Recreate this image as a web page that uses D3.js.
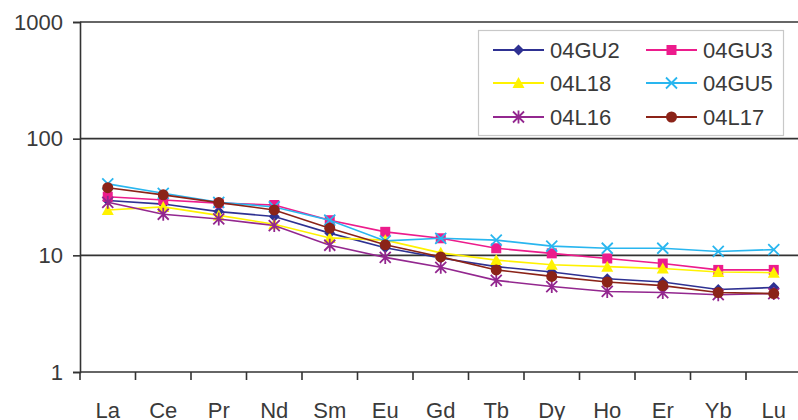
<!DOCTYPE html>
<html>
<head>
<meta charset="utf-8">
<script src="https://cdn.jsdelivr.net/npm/d3@7"></script>
<style>
  html, body { margin: 0; padding: 0; background: #fff; }
  svg { display: block; }
  text { font-family: "Liberation Sans", Arial, sans-serif; fill: #3a3a3a; }
</style>
</head>
<body>
<svg id="chart" width="798" height="420"></svg>
<script>
const categories = ["La","Ce","Pr","Nd","Sm","Eu","Gd","Tb","Dy","Ho","Er","Yb","Lu"];
const yTicks = [1, 10, 100, 1000];

const s04GU2 = [29.5, 27.5, 23.7, 21.5, 15.5, 11.6, 9.5, 8.0, 7.2, 6.3, 5.9, 5.1, 5.3];
const s04GU3 = [31.8, 29.8, 28.0, 27.0, 20.0, 15.9, 14.0, 11.5, 10.4, 9.4, 8.5, 7.5, 7.5];
const s04L18 = [24.5, 26.0, 22.0, 18.5, 14.1, 13.5, 10.5, 9.1, 8.3, 8.0, 7.7, 7.2, 7.1];
const s04GU5 = [41.0, 34.0, 28.5, 26.0, 20.0, 13.3, 14.0, 13.5, 12.0, 11.5, 11.5, 10.8, 11.2];
const s04L16 = [28.5, 22.5, 20.5, 18.0, 12.2, 9.6, 7.9, 6.1, 5.4, 4.9, 4.8, 4.6, 4.7];
const s04L17 = [38.0, 33.0, 28.3, 24.5, 17.1, 12.3, 9.7, 7.5, 6.6, 5.9, 5.5, 4.8, 4.7];

const seriesNames  = ["04GU2","04GU3","04L18","04GU5","04L16","04L17"];
const seriesValues = [s04GU2, s04GU3, s04L18, s04GU5, s04L16, s04L17];
const seriesColors = ["#2e3192","#ec1c8c","#fff200","#29b6ef","#93278f","#8b2318"];
const seriesMarkers = ["diamond","square","triangle","x","asterisk","circle"];

const svg = d3.select("#chart");
const mLeft = 80, mTop = 22, mBottom = 372, band = 55.5;
const x = d3.scaleBand().domain(categories).range([mLeft, mLeft + band * categories.length]).paddingInner(0).paddingOuter(0);
const y = d3.scaleLog().domain([1, 1000]).range([mBottom, mTop]);
const axisColor = "#333";

// gridlines
svg.append("g").selectAll("line").data(yTicks.filter(d => d > 1)).join("line")
  .attr("x1", mLeft).attr("x2", 798)
  .attr("y1", d => y(d)).attr("y2", d => y(d))
  .attr("stroke", axisColor).attr("stroke-width", 1.6);

// y axis
const yAxis = d3.axisLeft(y).tickValues(yTicks).tickFormat(d3.format("d")).tickSize(7).tickPadding(10);
const gy = svg.append("g").attr("transform", `translate(${mLeft},0)`).call(yAxis);
gy.select(".domain").attr("stroke", axisColor).attr("stroke-width", 1.6);
gy.selectAll(".tick line").attr("stroke", axisColor).attr("stroke-width", 1.6);
gy.selectAll(".tick text").attr("font-size", 22).attr("font-family", "Liberation Sans, Arial, sans-serif").attr("fill", "#3a3a3a");

// x axis
const xAxis = d3.axisBottom(x).tickSize(0).tickPadding(30);
const gx = svg.append("g").attr("transform", `translate(0,${mBottom})`).call(xAxis);
gx.select(".domain").remove();
gx.selectAll(".tick text").attr("font-size", 22).attr("font-family", "Liberation Sans, Arial, sans-serif").attr("fill", "#3a3a3a");
svg.append("line").attr("x1", mLeft).attr("x2", 798).attr("y1", mBottom).attr("y2", mBottom)
  .attr("stroke", axisColor).attr("stroke-width", 1.6);
svg.append("g").selectAll("line").data(categories).join("line")
  .attr("x1", d => x(d)).attr("x2", d => x(d))
  .attr("y1", mBottom).attr("y2", mBottom + 8)
  .attr("stroke", axisColor).attr("stroke-width", 1.6);

function drawMarker(g, type, color, cx, cy, s) {
  if (type === "diamond") {
    g.append("path").attr("d", `M${cx},${cy - s}L${cx + s},${cy}L${cx},${cy + s}L${cx - s},${cy}Z`).attr("fill", color);
  } else if (type === "square") {
    g.append("rect").attr("x", cx - s).attr("y", cy - s).attr("width", 2 * s).attr("height", 2 * s).attr("fill", color);
  } else if (type === "triangle") {
    g.append("path").attr("d", `M${cx},${cy - s - 1}L${cx + s + 1},${cy + s}L${cx - s - 1},${cy + s}Z`).attr("fill", color);
  } else if (type === "x") {
    g.append("path").attr("d", `M${cx - s},${cy - s}L${cx + s},${cy + s}M${cx - s},${cy + s}L${cx + s},${cy - s}`)
      .attr("stroke", color).attr("stroke-width", 1.8).attr("fill", "none");
  } else if (type === "asterisk") {
    g.append("path").attr("d", `M${cx - s},${cy - s}L${cx + s},${cy + s}M${cx - s},${cy + s}L${cx + s},${cy - s}M${cx},${cy - s - 1}L${cx},${cy + s + 1}`)
      .attr("stroke", color).attr("stroke-width", 1.8).attr("fill", "none");
  } else if (type === "circle") {
    g.append("circle").attr("cx", cx).attr("cy", cy).attr("r", s).attr("fill", color);
  }
}

const line = d3.line().x((d, i) => x(categories[i]) + x.bandwidth() / 2).y(d => y(d));
const sizes = {diamond: 5.5, square: 5, triangle: 5, x: 5.5, asterisk: 5.5, circle: 5.5};

seriesValues.forEach((vals, si) => {
  const g = svg.append("g");
  g.append("path").datum(vals).attr("d", line).attr("fill", "none")
    .attr("stroke", seriesColors[si]).attr("stroke-width", 1.6);
  vals.forEach((v, i) => {
    drawMarker(g, seriesMarkers[si], seriesColors[si], x(categories[i]) + x.bandwidth() / 2, y(v), sizes[seriesMarkers[si]]);
  });
});

// legend
const lg = svg.append("g");
lg.append("rect").attr("x", 478.5).attr("y", 30.5).attr("width", 305).attr("height", 105)
  .attr("fill", "#fff").attr("stroke", "#c8c8c8").attr("stroke-width", 1.2);
const colX = [493, 646];
const rowY = [50, 83, 117];
seriesNames.forEach((name, i) => {
  const cx = colX[i % 2], cy = rowY[Math.floor(i / 2)];
  lg.append("line").attr("x1", cx).attr("x2", cx + 51).attr("y1", cy).attr("y2", cy)
    .attr("stroke", seriesColors[i]).attr("stroke-width", 1.8);
  drawMarker(lg, seriesMarkers[i], seriesColors[i], cx + 25.5, cy, sizes[seriesMarkers[i]]);
  lg.append("text").attr("x", cx + 57).attr("y", cy + 8).attr("font-size", 22).text(name);
});
</script>
</body>
</html>
